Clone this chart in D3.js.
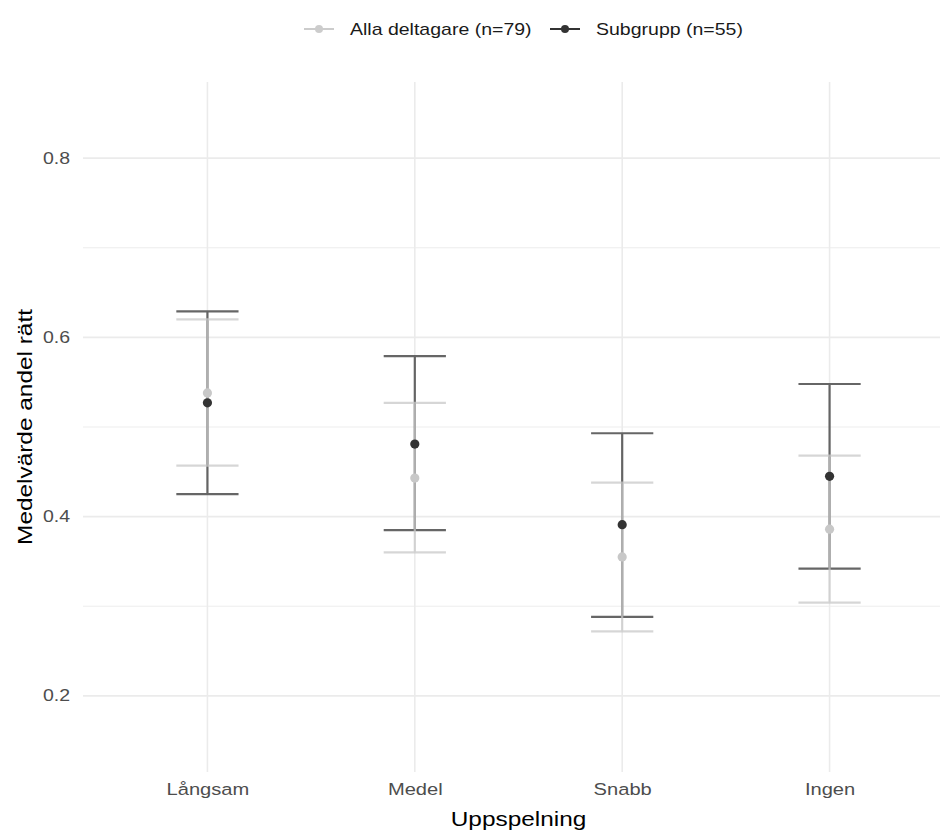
<!DOCTYPE html>
<html>
<head>
<meta charset="utf-8">
<script src="https://cdn.jsdelivr.net/npm/d3@7"></script>
<style>
  body { margin: 0; background: #fff; }
  text { font-family: "Liberation Sans", Arial, sans-serif; }
</style>
</head>
<body>
<script>
// values
const categories = ["Långsam", "Medel", "Snabb", "Ingen"];
const seriesNames = ["Alla deltagare (n=79)", "Subgrupp (n=55)"];
const allaMean = [0.538, 0.443, 0.355, 0.386];
const allaLow  = [0.457, 0.360, 0.272, 0.304];
const allaHigh = [0.620, 0.527, 0.438, 0.468];
const subMean  = [0.527, 0.481, 0.391, 0.445];
const subLow   = [0.425, 0.385, 0.288, 0.342];
const subHigh  = [0.629, 0.579, 0.493, 0.548];
const yMajor = [0.2, 0.4, 0.6, 0.8];
const yMinor = [0.3, 0.5, 0.7];

let svg = null;
let x, y = null;
const W = 940, H = 831;
const panel = {left: 83, right: 954, top: 82, bottom: 772};
const stretch = 1.22; // the text in the picture is drawn a bit wide

const series = [
  {name: seriesNames[1], mean: subMean, low: subLow, high: subHigh,
   bar: "#555555", barOpacity: 0.9, point: "#333333"},
  {name: seriesNames[0], mean: allaMean, low: allaLow, high: allaHigh,
   bar: "#c8c8c8", barOpacity: 0.75, point: "#c8c8c8"}
];

setupSvg();
setupScales();
drawGrid();
drawAxes();
drawErrorBars();
drawPoints();
drawLegend();

function setupSvg() {
  svg = d3.select("body").append("svg")
    .attr("width", W)
    .attr("height", H);
}

function setupScales() {
  x = d3.scalePoint().domain(categories)
    .range([panel.left, panel.right]).padding(0.6);
  y = d3.scaleLinear().domain([0.115, 0.885])
    .range([panel.bottom, panel.top]);
}

function drawGrid() {
  const g = svg.append("g");
  g.selectAll(".minor").data(yMinor).enter().append("line")
    .attr("x1", panel.left).attr("x2", panel.right)
    .attr("y1", d => y(d)).attr("y2", d => y(d))
    .attr("stroke", "#ebebeb").attr("stroke-width", 0.9);
  g.selectAll(".major").data(yMajor).enter().append("line")
    .attr("x1", panel.left).attr("x2", panel.right)
    .attr("y1", d => y(d)).attr("y2", d => y(d))
    .attr("stroke", "#ebebeb").attr("stroke-width", 1.6);
  g.selectAll(".vmajor").data(categories).enter().append("line")
    .attr("x1", d => x(d)).attr("x2", d => x(d))
    .attr("y1", panel.top).attr("y2", panel.bottom)
    .attr("stroke", "#ebebeb").attr("stroke-width", 1.6);
}

function wideText(sel, size) {
  sel.attr("fill", "#4d4d4d").style("font-size", size + "px")
    .style("font-family", "'Liberation Sans', Arial, sans-serif")
    .each(function() {
      const t = d3.select(this);
      t.attr("x", +t.attr("x") / stretch)
       .attr("transform", `scale(${stretch},1)`);
    });
}

function drawAxes() {
  // y axis labels
  const ya = svg.append("g")
    .attr("transform", `translate(${panel.left - 4},0)`)
    .call(d3.axisLeft(y).tickValues(yMajor).tickFormat(d3.format(".1f")).tickSize(0).tickPadding(9));
  ya.select(".domain").remove();
  wideText(ya.selectAll("text"), 16);

  // x axis labels
  const xa = svg.append("g")
    .attr("transform", `translate(0,${panel.bottom + 5})`)
    .call(d3.axisBottom(x).tickSize(0).tickPadding(6));
  xa.select(".domain").remove();
  wideText(xa.selectAll("text"), 16.5);

  svg.append("text")
    .attr("transform", `translate(${(panel.left + panel.right) / 2},826) scale(${stretch},1)`)
    .attr("text-anchor", "middle").attr("fill", "#000")
    .style("font-size", "20px").text("Uppspelning");

  svg.append("text")
    .attr("transform", `translate(32,${(panel.top + panel.bottom) / 2}) rotate(-90) scale(${stretch},1)`)
    .attr("text-anchor", "middle").attr("fill", "#000")
    .style("font-size", "20px").text("Medelvärde andel rätt");
}

function drawErrorBars() {
  const capHalf = x.step() * 0.15;
  series.forEach(s => {
    const g = svg.append("g")
      .attr("stroke", s.bar).attr("stroke-width", 2.2)
      .attr("opacity", s.barOpacity).attr("fill", "none");
    categories.forEach((c, i) => {
      const cx = x(c);
      const path = d3.path();
      path.moveTo(cx - capHalf, y(s.high[i]));
      path.lineTo(cx + capHalf, y(s.high[i]));
      path.moveTo(cx, y(s.high[i]));
      path.lineTo(cx, y(s.low[i]));
      path.moveTo(cx - capHalf, y(s.low[i]));
      path.lineTo(cx + capHalf, y(s.low[i]));
      g.append("path").attr("d", path.toString());
    });
  });
}

function drawPoints() {
  // light points first, dark on top
  [series[1], series[0]].forEach(s => {
    svg.append("g").selectAll("circle").data(categories).enter().append("circle")
      .attr("cx", d => x(d))
      .attr("cy", (d, i) => y(s.mean[i]))
      .attr("r", 4.6)
      .attr("fill", s.point);
  });
}

function drawLegend() {
  const items = [
    {name: seriesNames[0], color: "#cccccc", x: 304},
    {name: seriesNames[1], color: "#333333", x: 550}
  ];
  const g = svg.append("g");
  items.forEach(it => {
    g.append("line")
      .attr("x1", it.x).attr("x2", it.x + 30)
      .attr("y1", 29).attr("y2", 29)
      .attr("stroke", it.color).attr("stroke-width", 2);
    g.append("circle")
      .attr("cx", it.x + 15).attr("cy", 29).attr("r", 4)
      .attr("fill", it.color);
    g.append("text")
      .attr("transform", `translate(${it.x + 46},35) scale(${stretch},1)`)
      .attr("fill", "#1a1a1a")
      .style("font-size", "16px").text(it.name);
  });
}
</script>
</body>
</html>
